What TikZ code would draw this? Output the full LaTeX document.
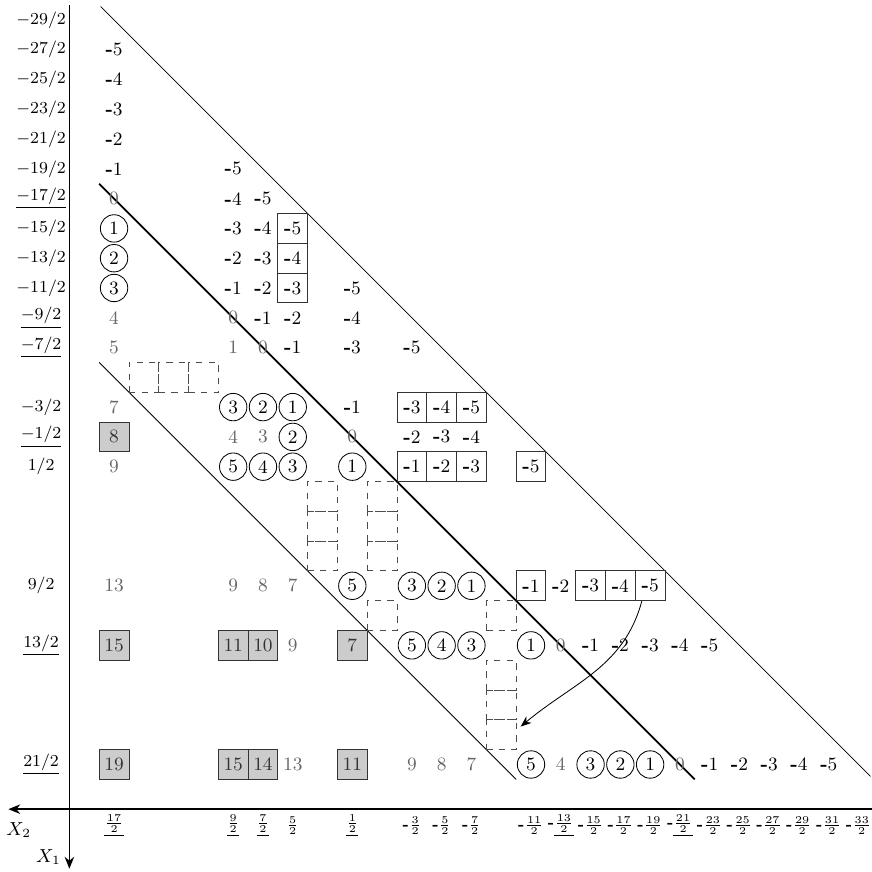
\documentclass[tikz,border=0pt]{standalone}
\usepackage{tikz}
\usetikzlibrary{arrows.meta,positioning}
\newcommand{\menos}[1]{\textbf{-}#1}
\tikzset{
  positivo/.style={font=\small,text=black!60,inner sep=1pt},
  negativo/.style={font=\small,inner sep=1pt},
  circulo/.style={circle,draw=black,font=\small,minimum size=4.6mm,inner sep=0pt},
  caja/.style={draw=black!80,font=\small,minimum size=5mm,inner sep=0pt},
  sombra/.style={draw=black!80,fill=black!20,font=\small,text=black!80,minimum size=5mm,inner sep=0pt},
  hueco/.style={draw=black!70,dashed,minimum size=5mm,inner sep=0pt},
  eje/.style={thick,-{Stealth[length=2mm,width=1.6mm]}},
  flecha/.style={-{Stealth[length=1.8mm,width=1.4mm]},thin},
}

\begin{document}
\begin{tikzpicture}[x=0.5cm,y=-0.5cm,
  etiq/.style={font=\footnotesize,inner sep=1pt},
  fraccion/.style={font=\scriptsize,inner sep=0pt}]
  \useasboundingbox (-3.83,-0.67) rectangle (25.42,28.61);
  % ejes
  \coordinate (ya) at (-1.5,-0.5);
  \coordinate (yb) at (-1.5,28.5);
  \coordinate (xa) at (25.45,26.5);
  \coordinate (xb) at (-3.55,26.5);
  \draw[eje] (ya) -- (yb);
  \draw[eje] (xa) -- (xb);
  \node[font=\small] (x2) at (-3.2,27.2) {$X_2$};
  \node[font=\small] (x1) at (-2.2,28.1) {$X_1$};
  % etiquetas de filas
  \foreach \i in {0,...,5,7,8,9,13,15,19}{
    \pgfmathtruncatemacro\v{2*\i-29}
    \node[etiq] (f\i) at (-2.45,\i) {$\v/2$};}
  \foreach \i in {6,10,11,14,21,25}{
    \pgfmathtruncatemacro\v{2*\i-29}
    \node[etiq] (f\i) at (-2.45,\i) {$\underline{\v/2}$};}
  % etiquetas de columnas
  \foreach \j in {0,4,5,8}{
    \pgfmathtruncatemacro\v{17-2*\j}
    \node[fraccion] (k\j) at (\j,27.05) {$\underline{\frac{\v}{2}}$};}
  \node[fraccion] (k6) at (6,27.05) {$\frac{5}{2}$};
  \foreach \j in {10,11,12,14,16,17,18,20,21,22,23,24,25}{
    \pgfmathtruncatemacro\v{2*\j-17}
    \node[fraccion] (k\j) at (\j,27.05) {\menos{$\frac{\v}{2}$}};}
  \foreach \j in {15,19}{
    \pgfmathtruncatemacro\v{2*\j-17}
    \node[fraccion] (k\j) at (\j,27.05) {\menos{$\underline{\frac{\v}{2}}$}};}
  % diagonales
  \coordinate (d1a) at (-0.45,-0.45);
  \coordinate (d1b) at (25.4,25.4);
  \coordinate (d2a) at (-0.5,5.5);
  \coordinate (d2b) at (19.5,25.5);
  \coordinate (d3a) at (-0.5,11.5);
  \coordinate (d3b) at (13.5,25.5);
  \draw[thin] (d1a) -- (d1b);
  \draw[thick] (d2a) -- (d2b);
  \draw[thin] (d3a) -- (d3b);
  % columna 17/2
  \foreach \i in {1,...,5}{
    \pgfmathtruncatemacro\v{6-\i}
    \node[negativo] (r\i-0) at (0,\i) {\menos\v};}
  \node[positivo] (r6-0) at (0,6) {0};
  \node[circulo] (r7-0) at (0,7) {1};
  \node[circulo] (r8-0) at (0,8) {2};
  \node[circulo] (r9-0) at (0,9) {3};
  \node[positivo] (r10-0) at (0,10) {4};
  \node[positivo] (r11-0) at (0,11) {5};
  \node[positivo] (r13-0) at (0,13) {7};
  \node[sombra] (r14-0) at (0,14) {8};
  \node[positivo] (r15-0) at (0,15) {9};
  \node[positivo] (r19-0) at (0,19) {13};
  \node[sombra] (r21-0) at (0,21) {15};
  \node[sombra] (r25-0) at (0,25) {19};
  % columnas 9/2, 7/2, 5/2
  \foreach \i in {5,...,9}{
    \pgfmathtruncatemacro\v{10-\i}
    \node[negativo] (r\i-4) at (4,\i) {\menos\v};}
  \node[positivo] (r10-4) at (4,10) {0};
  \node[positivo] (r11-4) at (4,11) {1};
  \foreach \i in {6,...,10}{
    \pgfmathtruncatemacro\v{11-\i}
    \node[negativo] (r\i-5) at (5,\i) {\menos\v};}
  \node[positivo] (r11-5) at (5,11) {0};
  \foreach \i in {7,8,9}{
    \pgfmathtruncatemacro\v{12-\i}
    \node[caja] (r\i-6) at (6,\i) {\menos\v};}
  \node[negativo] (r10-6) at (6,10) {\menos2};
  \node[negativo] (r11-6) at (6,11) {\menos1};
  \node[circulo] (r13-4) at (4,13) {3};
  \node[circulo] (r13-5) at (5,13) {2};
  \node[circulo] (r13-6) at (6,13) {1};
  \node[positivo] (r14-4) at (4,14) {4};
  \node[positivo] (r14-5) at (5,14) {3};
  \node[circulo] (r14-6) at (6,14) {2};
  \node[circulo] (r15-4) at (4,15) {5};
  \node[circulo] (r15-5) at (5,15) {4};
  \node[circulo] (r15-6) at (6,15) {3};
  \node[positivo] (r19-4) at (4,19) {9};
  \node[positivo] (r19-5) at (5,19) {8};
  \node[positivo] (r19-6) at (6,19) {7};
  \node[sombra] (r21-4) at (4,21) {11};
  \node[sombra] (r21-5) at (5,21) {10};
  \node[positivo] (r21-6) at (6,21) {9};
  \node[sombra] (r25-4) at (4,25) {15};
  \node[sombra] (r25-5) at (5,25) {14};
  \node[positivo] (r25-6) at (6,25) {13};
  % columna 1/2
  \node[negativo] (r9-8) at (8,9) {\menos5};
  \node[negativo] (r10-8) at (8,10) {\menos4};
  \node[negativo] (r11-8) at (8,11) {\menos3};
  \node[negativo] (r13-8) at (8,13) {\menos1};
  \node[positivo] (r14-8) at (8,14) {0};
  \node[circulo] (r15-8) at (8,15) {1};
  \node[circulo] (r19-8) at (8,19) {5};
  \node[sombra] (r21-8) at (8,21) {7};
  \node[sombra] (r25-8) at (8,25) {11};
  % columnas -3/2, -5/2, -7/2
  \node[negativo] (r11-10) at (10,11) {\menos5};
  \node[caja] (r13-10) at (10,13) {\menos3};
  \node[caja] (r13-11) at (11,13) {\menos4};
  \node[caja] (r13-12) at (12,13) {\menos5};
  \node[negativo] (r14-10) at (10,14) {\menos2};
  \node[negativo] (r14-11) at (11,14) {\menos3};
  \node[negativo] (r14-12) at (12,14) {\menos4};
  \node[caja] (r15-10) at (10,15) {\menos1};
  \node[caja] (r15-11) at (11,15) {\menos2};
  \node[caja] (r15-12) at (12,15) {\menos3};
  \node[circulo] (r19-10) at (10,19) {3};
  \node[circulo] (r19-11) at (11,19) {2};
  \node[circulo] (r19-12) at (12,19) {1};
  \node[circulo] (r21-10) at (10,21) {5};
  \node[circulo] (r21-11) at (11,21) {4};
  \node[circulo] (r21-12) at (12,21) {3};
  \node[positivo] (r25-10) at (10,25) {9};
  \node[positivo] (r25-11) at (11,25) {8};
  \node[positivo] (r25-12) at (12,25) {7};
  % columnas -11/2 en adelante
  \node[caja] (r15-14) at (14,15) {\menos5};
  \node[caja] (r19-14) at (14,19) {\menos1};
  \node[negativo] (r19-15) at (15,19) {\menos2};
  \node[caja] (r19-16) at (16,19) {\menos3};
  \node[caja] (r19-17) at (17,19) {\menos4};
  \node[caja] (r19-18) at (18,19) {\menos5};
  \node[circulo] (r21-14) at (14,21) {1};
  \node[positivo] (r21-15) at (15,21) {0};
  \foreach \j in {16,...,20}{
    \pgfmathtruncatemacro\v{\j-15}
    \node[negativo] (r21-\j) at (\j,21) {\menos\v};}
  \node[circulo] (r25-14) at (14,25) {5};
  \node[positivo] (r25-15) at (15,25) {4};
  \node[circulo] (r25-16) at (16,25) {3};
  \node[circulo] (r25-17) at (17,25) {2};
  \node[circulo] (r25-18) at (18,25) {1};
  \node[positivo] (r25-19) at (19,25) {0};
  \foreach \j in {20,...,24}{
    \pgfmathtruncatemacro\v{\j-19}
    \node[negativo] (r25-\j) at (\j,25) {\menos\v};}
  % huecos
  \foreach \j in {1,2,3}{\node[hueco] (h12-\j) at (\j,12) {};}
  \foreach \i in {16,17,18}{
    \node[hueco] (h\i-7) at (7,\i) {};
    \node[hueco] (h\i-9) at (9,\i) {};}
  \node[hueco] (h20-9) at (9,20) {};
  \node[hueco] (h20-13) at (13,20) {};
  \foreach \i in {22,23,24}{\node[hueco] (h\i-13) at (13,\i) {};}
  % flecha
  \draw[flecha] ([xshift=-1.4mm]r19-18.south) to[out=-105,in=40] ([xshift=0.7mm,yshift=-1.2mm]h24-13.north east);
\end{tikzpicture}
\end{document}
